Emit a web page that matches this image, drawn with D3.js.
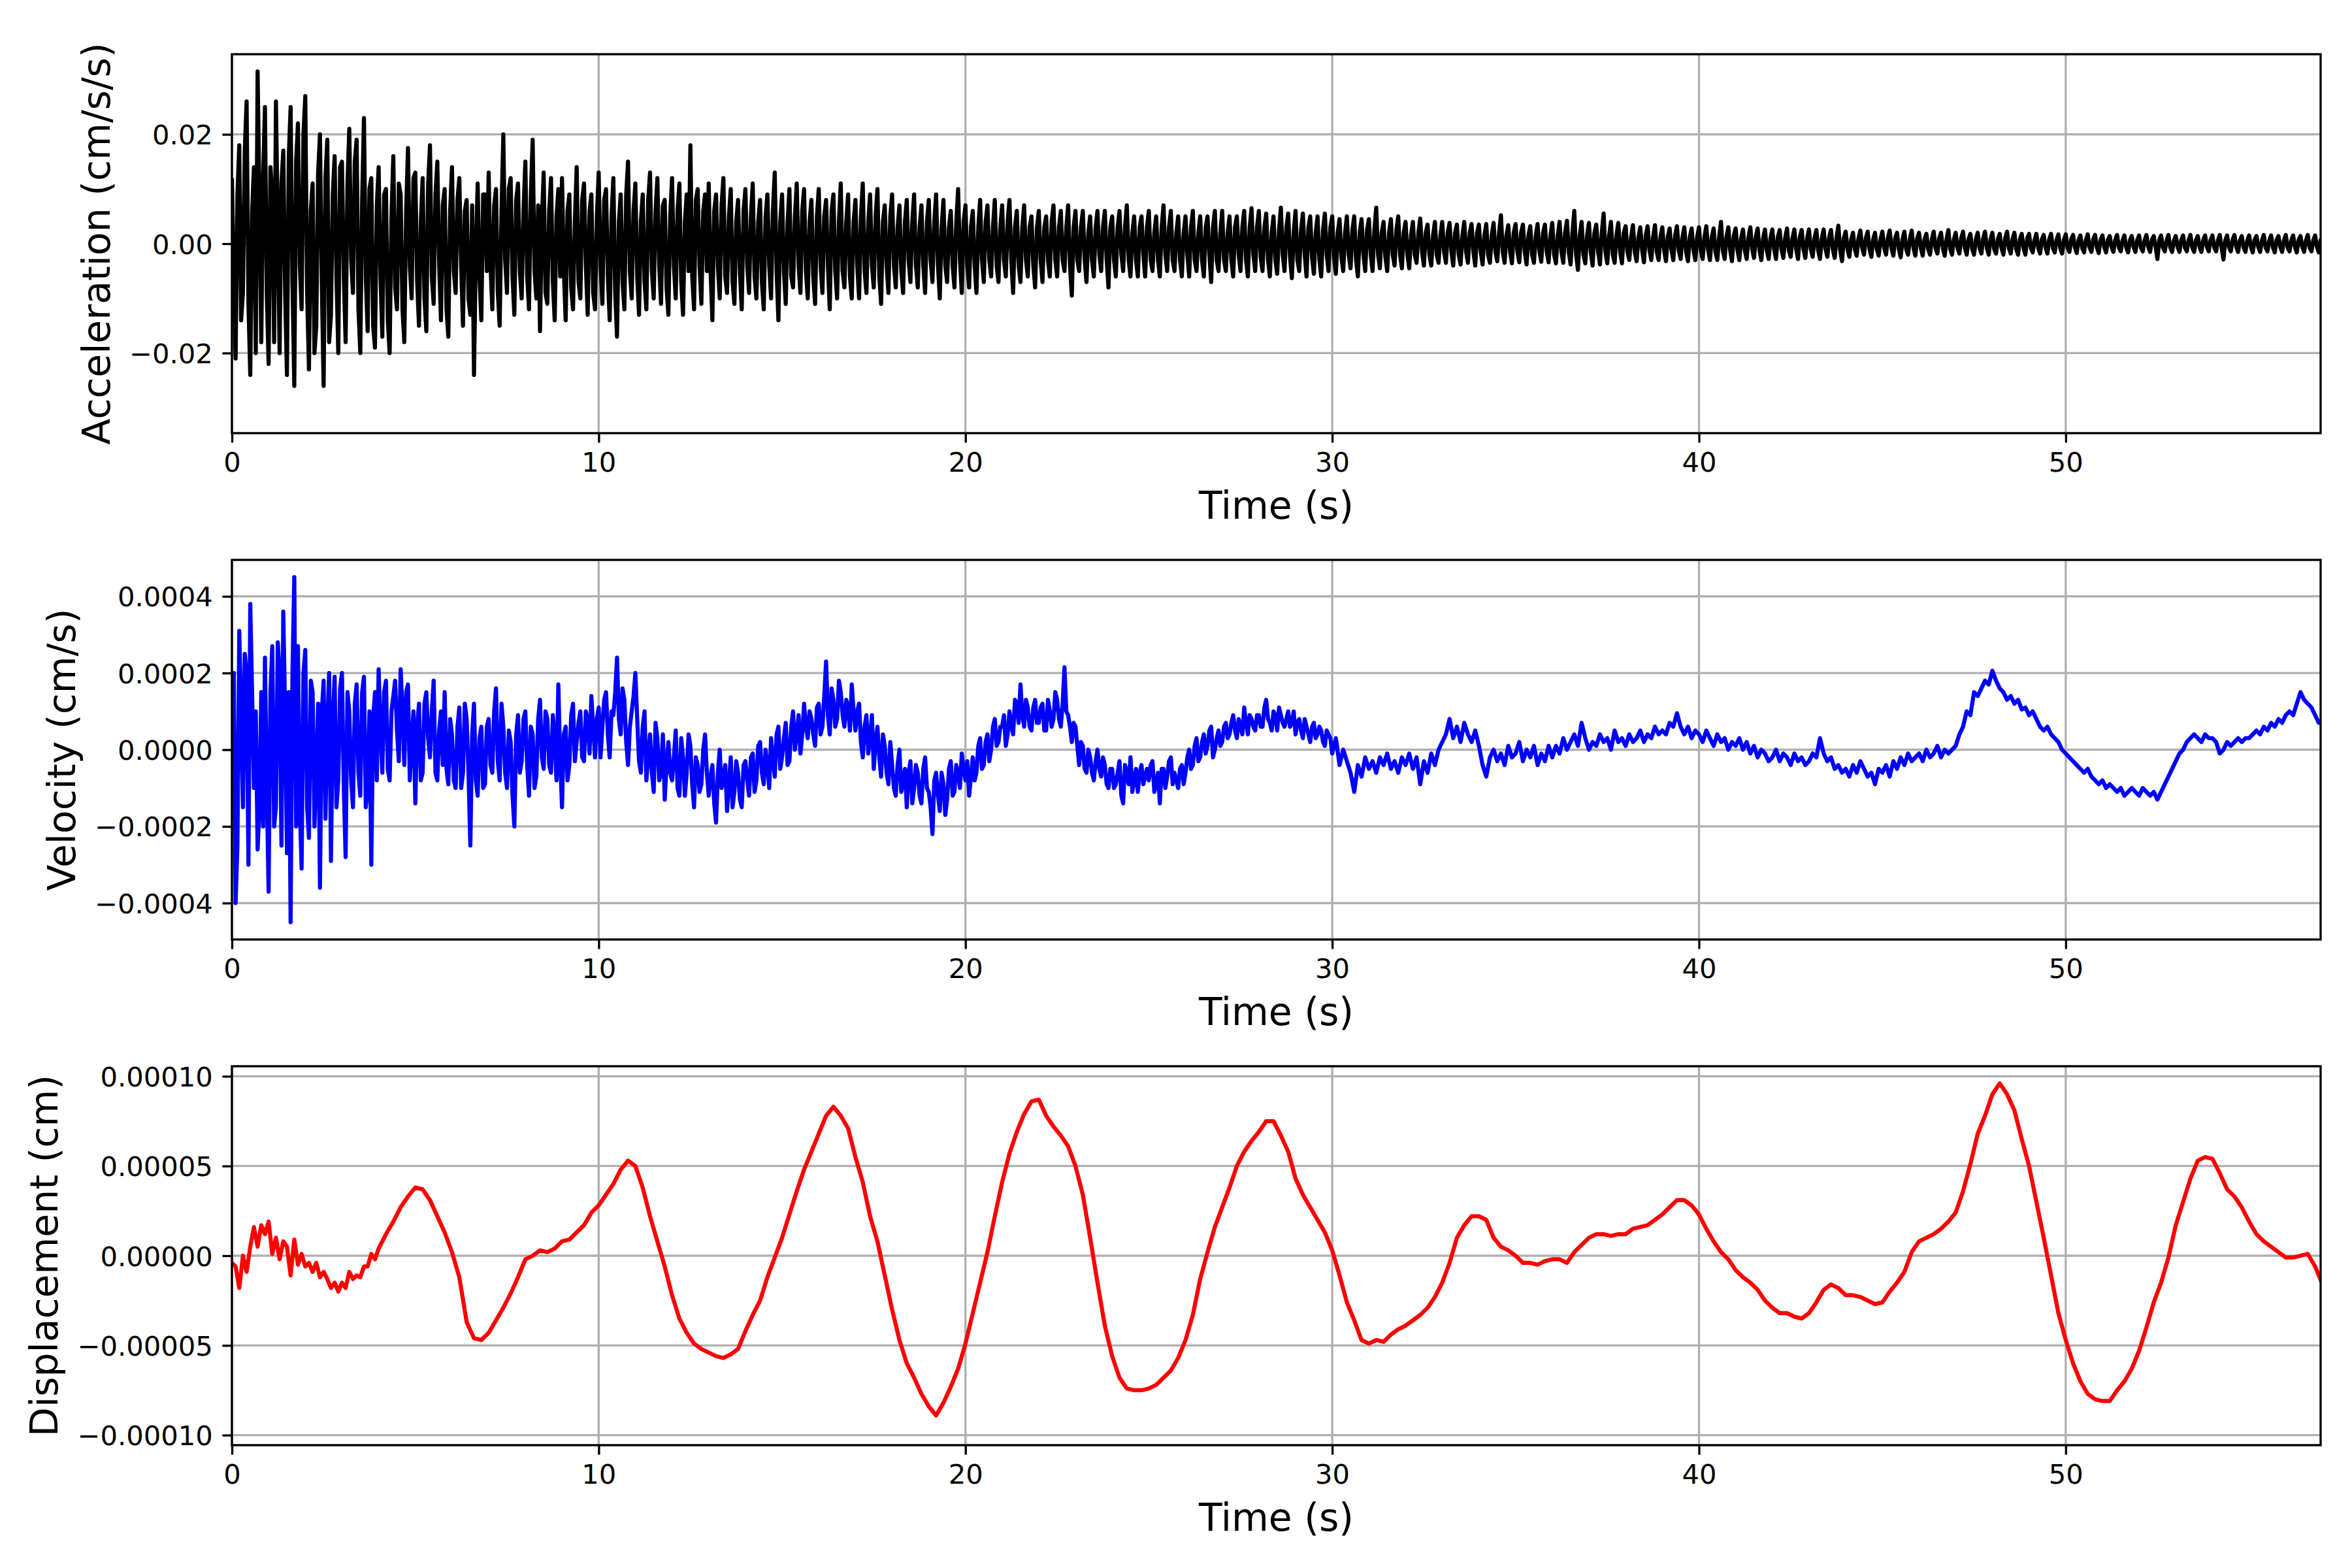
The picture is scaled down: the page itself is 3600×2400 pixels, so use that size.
<!DOCTYPE html>
<html>
<head>
<meta charset="utf-8">
<script src="https://cdn.jsdelivr.net/npm/d3@7"></script>
<style>
  body { margin: 0; background: #fff; }
  text { font-family: "DejaVu Sans", sans-serif; fill: #000; }
</style>
</head>
<body>
<div id="chart"></div>
<script>
// acceleration, cm/s/s, in units of 1e-4, one value every 0.1 s
var accel = [
  120, -210, 180, -90, 260, -240, 140, 315, -180, 250,
  -220, 90, 260, -200, 170, -240, 250, -260, 220, -120,
  270, -230, 110, -150, 200, -260, 190, -130, 160, -200,
  150, -180, 210, -90, 190, -200, 230, -160, 120, -190,
  140, -170, 100, -200, 160, -120, 90, -180, 175, -100,
  130, -150, 120, -160, 180, -110, 150, -140, 100, -170,
  140, -90, 120, -150, 80, -130, -240, 110, -140, 90,
  130, -120, 100, -150, 200, -90, 120, -130, 110, -100,
  150, -120, 190, -100, -160, 130, -110, 120, -140, 100,
  120, -140, 90, -120, 140, -100, 110, -130, 90, -120,
  130, -110, 100, -140, 120, -170, 90, -120, 150, -100,
  110, -130, 90, -120, 130, -100, 120, -110, 80, -130,
  120, -100, 110, -130, 90, 180, -120, 100, -110, 90,
  110, -140, 90, -100, 120, -90, 100, -110, 80, -120,
  100, -90, 110, -100, 80, -120, 90, -100, 130, -140,
  90, -110, 100, -80, 110, -90, 100, -100, 80, -110,
  100, -90, 80, -120, 90, -100, 110, -80, 90, -100,
  80, -100, 110, -90, 90, -80, 100, -110, 70, -90,
  90, -80, 70, -90, 80, -70, 90, -80, 70, -90,
  80, -70, 90, -100, 80, -70, 60, -80, 100, -90,
  70, -80, 60, -90, 80, -70, 70, -60, 80, -70,
  70, -60, 80, -90, 60, -70, 70, -60, 50, -80,
  60, -70, 50, -60, 70, -60, 60, -50, 70, -95,
  60, -50, 60, -70, 50, -60, 60, -50, 60, -80,
  50, -60, 60, -50, 70, -60, 50, -60, 50, -60,
  60, -50, 50, -60, 70, -50, 60, -50, 50, -60,
  50, -60, 60, -50, 50, -60, 50, -70, 60, -50,
  60, -50, 50, -60, 50, -50, 60, -60, 65, -50,
  60, -50, 55, -60, 50, -55, 66, -50, 55, -63,
  60, -50, 55, -60, 50, -55, 50, -60, 55, -50,
  50, -55, 45, -50, 50, -45, 50, -60, 45, -50,
  45, -50, 66, -45, 40, -50, 45, -40, 50, -45,
  40, -45, 40, -35, 46, -40, 35, -40, 40, -35,
  40, -35, 38, -40, 35, -38, 40, -35, 36, -40,
  35, -38, 36, -35, 38, -32, 52, -35, 34, -36,
  36, -34, 35, -38, 32, -35, 36, -33, 35, -34,
  38, -36, 40, -35, 42, -38, 60, -48, 40, -36,
  38, -40, 35, -38, 55, -36, 40, -35, 38, -36,
  32, -30, 34, -32, 30, -34, 32, -30, 34, -30,
  30, -32, 28, -30, 32, -28, 30, -32, 28, -30,
  30, -28, 32, -30, 28, -30, 40, -28, 30, -32,
  28, -30, 26, -28, 30, -26, 28, -30, 26, -28,
  26, -28, 25, -26, 28, -24, 26, -28, 25, -26,
  26, -24, 25, -28, 26, -24, 25, -26, 33, -32,
  22, -24, 20, -22, 24, -20, 22, -24, 20, -22,
  22, -20, 24, -22, 20, -25, 22, -20, 24, -22,
  20, -22, 18, -20, 22, -18, 20, -22, 25, -20,
  20, -18, 22, -20, 18, -20, 20, -18, 22, -20,
  20, -18, 18, -20, 22, -18, 20, -20, 18, -20,
  18, -16, 18, -18, 16, -18, 18, -16, 17, -18,
  17, -15, 16, -17, 15, -16, 17, -15, 16, -17,
  15, -16, 14, -15, 16, -14, 15, -16, 14, -15,
  15, -14, 16, -15, 14, -28, 15, -14, 16, -15,
  14, -15, 15, -14, 16, -15, 14, -15, 15, -14,
  15, -14, 16, -29, 15, -14, 16, -15, 14, -15,
  15, -16, 14, -15, 16, -14, 15, -16, 14, -15,
  16, -14, 15, -16, 14, -15, 16, -14, 15, -16,
  5
];
// acceleration in between, at 0.05 s + every 0.1 s (units 1e-4)
var accelMid = [
  -60, 90, -140, 170, -110, 60, -200, 80, 120, -90,
  140, -180, 30, 110, -90, 160, -70, 150, -40, 200,
  -90, 60, -200, 130, -70, 120, -180, 90, -60, 140,
  -60, 110, -30, 150, -120, 80, -60, 100, -150, 70,
  -60, 90, -140, 50, -80, 110, -120, 60, -40, 120,
  -70, 40, -100, 110, -60, 90, -40, 70, -120, 60,
  -50, 80, -40, 60, -100, 70, -20, -60, 90, -50,
  -40, 70, -90, 60, -30, 100, -60, 80, -50, 60,
  -60, 90, -50, 70, 40, -90, 60, -70, 50, -60,
  -50, 60, -80, 40, -70, 80, -40, 60, -90, 50,
  -40, 80, -60, 50, -90, 40, -70, 90, -50, 60,
  -60, 40, -70, 80, -50, 60, -40, 70, -80, 50,
  -40, 60, -70, 40, -50, -60, 80, -40, 60, -50,
  -50, 60, -40, 70, -60, 50, -70, 40, -50, 60,
  -40, 50, -60, 40, -70, 50, -40, 60, -50, 40,
  -50, 40, -60, 50, -40, 60, -50, 40, -60, 50,
  -40, 50, -40, 60, -50, 40, -50, 40, -60, 40,
  -40, 50, -50, 40, -40, 50, -60, 40, -40, 50,
  -40, 30, -50, 40, -30, 40, -40, 30, -40, 40,
  -30, 40, -40, 30, -40, 30, -40, 40, -30, 40,
  -40, 30, -40, 30, -30, 40, -30, 30, -40, 30,
  -30, 40, -30, 30, -40, 30, -30, 30, -40, 30,
  -30, 30, -30, 40, -30, 30, -30, 30, -40, 30,
  -30, 30, -30, 20, -30, 30, -20, 30, -30, 30,
  -30, 30, -20, 30, -30, 20, -30, 30, -20, 30,
  -30, 20, -30, 30, -20, 30, -30, 20, -30, 20,
  -20, 30, -30, 20, -30, 30, -20, 30, -30, 20,
  -30, 20, -30, 30, -20, 30, -30, 30, -20, 30,
  -25, 30, -30, 20, -30, 25, -20, 30, -25, 20,
  -30, 25, -20, 30, -25, 20, -30, 25, -20, 30,
  -25, 20, -25, 20, -20, 25, -30, 20, -20, 25,
  -20, 25, -20, 20, -25, 20, -20, 25, -20, 20,
  -20, 15, -20, 20, -15, 20, -20, 15, -20, 15,
  -15, 20, -15, 20, -20, 15, -15, 20, -15, 20,
  -15, 15, -20, 15, -15, 20, -15, 15, -15, 20,
  -15, 20, -15, 15, -20, 15, -15, 20, -15, 15,
  -20, 15, -15, 20, -15, 20, -20, 15, -20, 15,
  -15, 20, -15, 20, -15, 15, -20, 15, -15, 20,
  -15, 12, -15, 12, -12, 15, -12, 12, -15, 12,
  -12, 12, -12, 15, -12, 12, -15, 12, -12, 12,
  -12, 12, -12, 12, -15, 12, -12, 12, -12, 15,
  -12, 10, -12, 12, -10, 12, -12, 10, -12, 10,
  -10, 12, -10, 10, -12, 10, -10, 12, -10, 10,
  -10, 10, -12, 10, -10, 12, -10, 10, -12, 10,
  -10, 8, -10, 10, -8, 10, -10, 8, -10, 8,
  -8, 10, -8, 10, -10, 8, -10, 8, -8, 10,
  -8, 8, -10, 8, -8, 10, -8, 8, -10, 8,
  -8, 10, -8, 8, -10, 8, -8, 10, -8, 8,
  -10, 8, -8, 10, -8, 8, -10, 8, -8, 10,
  -8, 7, -8, 8, -7, 8, -8, 7, -8, 7,
  -7, 8, -7, 7, -8, 7, -7, 8, -7, 7,
  -6, 7, -6, 7, -7, 6, -7, 6, -6, 7,
  -7, 6, -6, 7, -6, 7, -7, 6, -7, 6,
  -6, 7, -7, 6, -7, 6, -6, 7, -6, 7,
  -7, 6, -7, 6, -6, 7, -6, 6, -7, 6,
  -6, 7, -6, 6, -7, 6, -7, 7, -6, 6,
  -7, 6, -6, 7, -6, 6, -7, 6, -6, 7
];

// velocity, cm/s, in units of 1e-6, one value every 0.1 s
var veloc = [
  0, -400, 310, -150, 200, 380, -100, -260, 150, 240,
  -370, 270, -150, 200, 360, -270, -450, 450, 270, -310,
  260, -230, 150, -50, -360, 180, 60, -290, 190, -80,
  200, -280, 100, -150, 170, -120, 190, -100, -300, 150,
  210, -60, 180, -80, 140, 50, 210, -40, 170, 20,
  -140, 120, -60, 150, -20, 180, -80, 100, 150, -90,
  40, -100, 110, -60, 80, -250, 120, -120, 60, -90,
  80, -60, 160, -80, 60, -100, 20, -200, 90, -30,
  100, -120, 40, -70, 130, -50, 80, -60, 30, 170,
  -150, 60, -40, 120, 20, 100, -30, 80, 140, -20,
  110, 60, 150, -20, 90, 240, 40, 130, -40, 100,
  200, -30, 60, -80, 40, -110, 30, -60, -130, 20,
  -80, 50, -120, -20, -60, 10, -150, -40, -90, 40,
  -120, -40, -190, 0, -80, -160, -20, -110, -60, -150,
  -30, -120, -10, -80, 20, -90, -40, 30, -70, 60,
  -20, 70, -30, 100, 40, -10, 120, 30, 80, 10,
  120, 60, 230, 40, 130, 80, 150, 60, 110, 170,
  50, 120, -20, 90, 30, -50, 60, -70, 10, -90,
  -40, -120, 0, -80, -150, -30, -100, -60, -140, -20,
  -110, -220, -60, -160, -90, -130, -30, -110, -60, -10,
  -80, -120, -20, -60, 30, -40, 40, 0, 80, 20,
  60, 10, 100, 40, 120, 170, 60, 110, 50, 130,
  70, 120, 50, 100, 80, 130, 60, 215, 90, 20,
  60, -40, 10, -60, -20, -80, 0, -70, -40, -100,
  -50, -90, -30, -140, -60, -20, -80, -110, -40, -70,
  -80, -30, -90, -140, -50, -70, -20, -60, -100, -40,
  -60, 0, -40, 30, -20, 40, 10, 60, 0, 50,
  20, 70, 40, 90, 30, 60, 110, 40, 80, 50,
  90, 60, 130, 70, 100, 50, 90, 60, 100, 70,
  40, 80, 30, 60, 20, 70, 40, 50, 10, 40,
  -10, 30, -40, 0, -30, -60, -110, -40, -70, -20,
  -50, -30, -60, -20, -40, -10, -50, -30, -60, -20,
  -40, -10, -50, -20, -90, -30, -60, -10, -40, 0,
  20, 40, 80, 30, 60, 20, 70, 40, 20, 50,
  10, -40, -70, -20, 0, -30, -10, -40, 10, -20,
  -10, 20, -30, 0, -20, 10, -40, -10, -30, 10,
  -20, 10, -10, 30, 0, 20, 40, 10, 70, 30,
  0, 20, 10, 40, 20, 30, 0, 50, 20, 30,
  10, 40, 20, 30, 50, 20, 40, 30, 60, 40,
  50, 40, 70, 60, 95, 60, 40, 60, 30, 50,
  40, 20, 50, 30, 10, 40, 20, 30, 0, 20,
  10, 30, 0, 20, -10, 10, -20, 0, -10, -30,
  -20, 0, -30, -10, -20, -40, -10, -30, -20, -40,
  -30, -10, -20, 30, -10, -30, -20, -50, -40, -60,
  -50, -70, -40, -60, -30, -50, -70, -60, -90, -50,
  -60, -40, -70, -30, -50, -20, -40, -10, -30, -20,
  -10, -30, 0, -20, -10, 10, -20, 0, -10, 0,
  10, 40, 60, 100, 90, 150, 140, 160, 180, 170,
  206, 180, 160, 150, 130, 140, 120, 130, 105, 110,
  90, 100, 80, 60, 50, 60, 40, 30, 20, 0,
  -10, -20, -30, -40, -50, -60, -50, -70, -80, -90,
  -80, -100, -90, -100, -110, -100, -120, -110, -100, -110,
  -120, -100, -110, -120, -110, -130, -110, -90, -70, -50,
  -30, -10, 0, 20, 30, 40, 30, 20, 40, 30,
  30, 20, -10, 0, 20, 10, 20, 30, 20, 30,
  30, 40, 50, 40, 60, 50, 70, 60, 80, 70,
  90, 100, 90, 120, 150, 130, 120, 110, 90, 70,
  70
];
// velocity in between, at 0.05 s + every 0.1 s, first 30 s (units 1e-6)
var velocMid = [
  200, -250, 100, 250, -300, 150, 100, -150, -200, -100,
  150, -200, 280, -250, 100, 150, 200, -200, -150, 200,
  -150, 180, -200, 120, 100, -180, 200, 80, -150, 160,
  -100, 150, -80, 120, -60, 150, -150, 100, 80, -80,
  60, 150, -50, 100, 180, -30, 100, 150, -80, 100,
  60, -80, 120, 30, 100, -60, 50, -40, -50, 80,
  -80, 60, -100, 120, -60, 40, -80, 30, -100, 60,
  -40, 100, -30, 120, -60, 50, -120, 40, -60, 80,
  -40, 60, -100, 80, -20, 100, -40, 90, -80, -30,
  40, -80, 90, -30, 70, -20, 100, -10, 60, 80,
  -20, 130, 40, 100, 150, 80, 160, 20, 60, 140,
  80, -60, 100, -20, -60, 70, -80, 40, -40, -60,
  -20, -100, 30, -120, 40, -90, -20, -110, 0, -60,
  -70, -140, -60, -100, -40, -90, -150, -30, -130, -40,
  -80, -20, -110, 10, -60, 0, -100, -20, 40, -50,
  30, -40, 60, 0, 90, 40, 60, 100, 40, 110,
  40, 140, 90, 160, 60, 180, 90, 130, 50, 100,
  100, 20, 60, -10, 90, 20, -20, 40, -60, 20,
  -100, -40, -110, -50, -60, -140, -40, -120, -50, -100,
  -150, -80, -120, -60, -170, -50, -120, -40, -100, -50,
  -30, -70, -80, 10, -50, 20, -30, 60, 10, 60,
  90, 40, 60, 130, 70, 90, 130, 60, 110, 70,
  110, 50, 130, 60, 150, 80, 120, 100, 60, 70,
  10, 20, -50, 0, -60, -30, -50, -20, -90, -50,
  -100, -60, -120, -40, -90, -110, -50, -60, -90, -50,
  -40, -110, -60, -50, -100, -30, -90, -80, -50, -90,
  -20, -50, 10, -30, 20, -10, 50, -20, 30, 10,
  60, 30, 70, 50, 80, 40, 70, 90, 60, 90,
  60, 110, 80, 50, 90, 110, 70, 80, 60, 100,
  70, 50, 80, 40, 60, 30, 60, 20, 50, 30
];

// displacement, cm, in units of 1e-6: every 0.1 s from 0 to 4 s ...
var dispEarly = [
  -4, -6, -18, 0, -9, 5, 16, 5, 17, 12,
  19, 1, 10, -2, 8, 5, -11, 9, -5, 1,
  -6, -4, -9, -4, -12, -9, -13, -18, -15, -20,
  -15, -18, -9, -13, -11, -12, -6, -6, 1, -2,
  4
];
// ... then every 0.2 s from 4.2 s to 57 s
var dispLate = [
  12, 19, 27, 33, 38, 37, 31, 22, 13, 2,
  -12, -37, -46, -47, -43, -36, -29, -21, -12, -2,
  0, 3, 2, 4, 8, 9, 13, 17, 24, 28,
  34, 40, 48, 53, 50, 38, 22, 8, -6, -22,
  -35, -43, -49, -52, -54, -56, -57, -55, -52, -42,
  -33, -25, -12, -1, 10, 23, 36, 48, 58, 68,
  78, 83, 78, 71, 55, 41, 22, 8, -11, -30,
  -47, -60, -68, -77, -84, -89, -82, -73, -63, -49,
  -32, -15, 2, 22, 41, 57, 69, 79, 86, 87,
  78, 72, 67, 61, 50, 34, 10, -15, -39, -56,
  -68, -74, -75, -75, -74, -72, -68, -64, -57, -47,
  -33, -13, 2, 16, 27, 38, 50, 58, 64, 69,
  75, 75, 67, 58, 43, 34, 27, 20, 13, 3,
  -11, -26, -36, -47, -49, -47, -48, -44, -41, -39,
  -36, -33, -29, -23, -15, -4, 10, 17, 22, 22,
  20, 10, 5, 3, 0, -4, -4, -5, -3, -2,
  -2, -4, 2, 6, 10, 12, 12, 11, 12, 12,
  15, 16, 17, 20, 23, 27, 31, 31, 28, 23,
  15, 8, 2, -2, -8, -12, -15, -19, -25, -29,
  -32, -32, -34, -35, -32, -26, -19, -16, -18, -22,
  -22, -23, -25, -27, -26, -20, -15, -9, 2, 8,
  10, 12, 15, 19, 24, 36, 51, 68, 78, 90,
  96, 90, 81, 65, 50, 30, 10, -11, -32, -47,
  -60, -70, -77, -80, -81, -81, -75, -70, -63, -53,
  -40, -26, -15, -1, 17, 30, 43, 53, 55, 54,
  46, 37, 33, 27, 19, 12, 8, 5, 2, -1,
  -1, 0, 1, -6, -16
];

var timeTicks = [0, 10, 20, 30, 40, 50];
var accelTicks = [-0.02, 0, 0.02];
var velocTicks = [-0.0004, -0.0002, 0, 0.0002, 0.0004];
var dispTicks = [-0.0001, -0.00005, 0, 0.00005, 0.0001];

/* sizes in px for a 3600x2400 figure (300 dpi) */
var pt = 300 / 72;
var width = 3600, height = 2400;
var left = 355, right = 3552;
var tickLen = 3.5 * pt, tickPad = 3.5 * pt, labelPad = 4 * pt;
var tickFont = 10 * pt, labelFont = 14 * pt;

/* main samples every 0.1 s, with the in-between samples slotted in where given */
function interleave(main, mid, unit) {
  var out = [];
  main.forEach(function (v, i) {
    out.push([i * 0.1, v * unit]);
    if (i < mid.length) out.push([i * 0.1 + 0.05, mid[i] * unit]);
  });
  return out;
}

var accelSeries = interleave(accel, accelMid, 1e-4);
var velocSeries = interleave(veloc, velocMid, 1e-6);
var dispSeries = dispEarly.map(function (v, i) { return [i * 0.1, v * 1e-6]; })
  .concat(dispLate.map(function (v, i) { return [4.2 + i * 0.2, v * 1e-6]; }));

var panels = [
  { top: 83, bottom: 663, data: accelSeries, color: "#000000", label: "Acceleration (cm/s/s)", fmt: ".2f", ticks: accelTicks },
  { top: 857, bottom: 1438, data: velocSeries, color: "#0000ff", label: "Velocity (cm/s)", fmt: ".4f", ticks: velocTicks },
  { top: 1632, bottom: 2212, data: dispSeries, color: "#ff0000", label: "Displacement (cm)", fmt: ".5f", ticks: dispTicks }
];

var svg = d3.select("#chart")
  .append("svg")
    .attr("width", width)
    .attr("height", height)
    .attr("viewBox", "0 0 " + width + " " + height);

svg.append("rect").attr("width", width).attr("height", height).attr("fill", "#fff");

var x = d3.scaleLinear().domain([0, 56.95]).range([left, right]);

panels.forEach(function (p, k) {
  /* symmetric limits: 1.1 x max |value| */
  var m = d3.max(p.data, function (d) { return Math.abs(d[1]); }) * 1.1;
  var y = d3.scaleLinear().domain([-m, m]).range([p.bottom, p.top]);
  var g = svg.append("g");

  g.append("clipPath").attr("id", "clip" + k)
    .append("rect")
      .attr("x", left).attr("y", p.top)
      .attr("width", right - left).attr("height", p.bottom - p.top);

  /* grid */
  g.selectAll(".vgrid").data(timeTicks).enter().append("line")
    .attr("x1", function (d) { return x(d); }).attr("x2", function (d) { return x(d); })
    .attr("y1", p.top).attr("y2", p.bottom)
    .attr("stroke", "#b0b0b0").attr("stroke-width", 0.8 * pt);
  g.selectAll(".hgrid").data(p.ticks).enter().append("line")
    .attr("x1", left).attr("x2", right)
    .attr("y1", function (d) { return y(d); }).attr("y2", function (d) { return y(d); })
    .attr("stroke", "#b0b0b0").attr("stroke-width", 0.8 * pt);

  /* the trace */
  var line = d3.line()
    .x(function (d) { return x(d[0]); })
    .y(function (d) { return y(d[1]); });
  g.append("path")
    .datum(p.data)
    .attr("clip-path", "url(#clip" + k + ")")
    .attr("fill", "none")
    .attr("stroke", p.color)
    .attr("stroke-width", 1.5 * pt)
    .attr("stroke-linejoin", "round")
    .attr("d", line);

  /* axes */
  var xa = g.append("g")
    .attr("transform", "translate(0," + p.bottom + ")")
    .call(d3.axisBottom(x).tickValues(timeTicks).tickFormat(d3.format("d"))
      .tickSize(tickLen).tickPadding(tickPad));
  var ya = g.append("g")
    .attr("transform", "translate(" + left + ",0)")
    .call(d3.axisLeft(y).tickValues(p.ticks).tickFormat(d3.format(p.fmt))
      .tickSize(tickLen).tickPadding(tickPad));

  [xa, ya].forEach(function (a) {
    a.select(".domain").remove();
    a.selectAll("line").attr("stroke", "#000").attr("stroke-width", 0.8 * pt);
    a.selectAll("text")
      .attr("fill", "#000")
      .style("font-family", "'DejaVu Sans', sans-serif")
      .style("font-size", tickFont + "px");
  });
  ya.selectAll("text").attr("dy", "0.36em");

  /* frame */
  g.append("rect")
    .attr("x", left).attr("y", p.top)
    .attr("width", right - left).attr("height", p.bottom - p.top)
    .attr("fill", "none").attr("stroke", "#000").attr("stroke-width", 0.8 * pt);

  /* labels */
  g.append("text")
    .attr("x", (left + right) / 2)
    .attr("y", p.bottom + 131)
    .attr("text-anchor", "middle")
    .style("font-size", labelFont + "px")
    .text("Time (s)");

  var widest = 0;
  ya.selectAll("text").each(function () {
    widest = Math.max(widest, this.getComputedTextLength());
  });
  var lx = left - tickLen - tickPad - widest - labelPad - 0.236 * labelFont;
  var cy = (p.top + p.bottom) / 2;
  g.append("text")
    .attr("transform", "translate(" + lx + "," + cy + ") rotate(-90)")
    .attr("text-anchor", "middle")
    .style("font-size", labelFont + "px")
    .text(p.label);
});
</script>
</body>
</html>
